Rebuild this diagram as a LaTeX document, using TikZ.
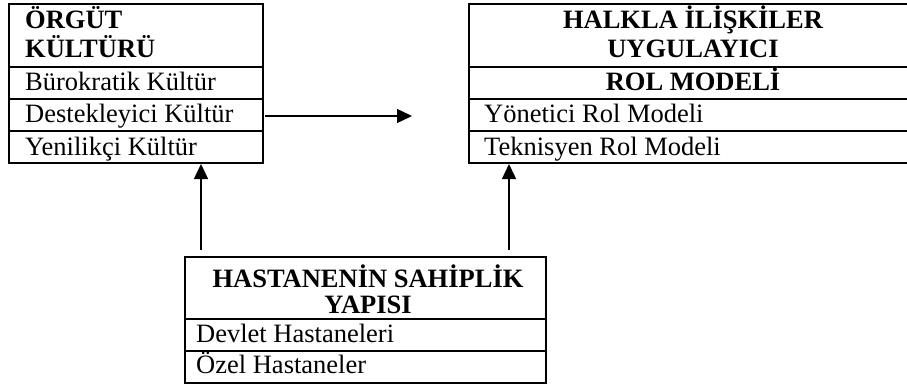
\documentclass[tikz,border=0pt]{standalone}
\usepackage{fontspec}
\setmainfont{Liberation Serif}
\usetikzlibrary{arrows.meta}
\begin{document}
\begin{tikzpicture}[x=1pt,y=-1pt,
  box/.style={line width=2.2pt},
  lbl/.style={anchor=base west, inner sep=0pt, font=\fontsize{26.5}{30}\selectfont},
  ttl/.style={anchor=base, inner sep=0pt, font=\fontsize{26.5}{30}\selectfont\bfseries},
  ttll/.style={anchor=base west, inner sep=0pt, font=\fontsize{26.5}{30}\selectfont\bfseries},
  conn/.style={line width=1.4pt, -{Triangle[length=15pt,width=14pt]}}]
\useasboundingbox (0,0) rectangle (907,385);
% left box
\draw[box] (9,4) rectangle (263,163);
\draw[box] (9,67) -- (263,67) (9,99) -- (263,99) (9,131) -- (263,131);
\node[ttll] (l1) at (25,29) {ÖRGÜT};
\node[ttll] (l2) at (25,58) {KÜLTÜRÜ};
\node[lbl] (l3) at (25,91) {Bürokratik Kültür};
\node[lbl] (l4) at (25,123) {Destekleyici Kültür};
\node[lbl] (l5) at (25,155) {Yenilikçi Kültür};
% right box (its right edge lies beyond the picture)
\draw[box] (930,4) -- (469,4) -- (469,163) -- (930,163);
\draw[box] (469,67) -- (930,67) (469,99) -- (930,99) (469,131) -- (930,131);
\node[ttl] (r1) at (693,29) {HALKLA İLİŞKİLER};
\node[ttl] (r2) at (693,58) {UYGULAYICI};
\node[ttl] (r3) at (693,91) {ROL MODELİ};
\node[lbl] (r4) at (484,123) {Yönetici Rol Modeli};
\node[lbl] (r5) at (484,155) {Teknisyen Rol Modeli};
% bottom box
\draw[box] (185,257) rectangle (546,383);
\draw[box] (185,319) -- (546,319) (185,351) -- (546,351);
\node[ttl] (b1) at (368,287) {HASTANENİN SAHİPLİK};
\node[ttl] (b2) at (368,313) {YAPISI};
\node[lbl] (b3) at (196,342) {Devlet Hastaneleri};
\node[lbl] (b4) at (196,373) {Özel Hastaneler};
% connectors
\coordinate (hA) at (265,116);
\coordinate (hB) at (412,116);
\coordinate (vLa) at (201,250);
\coordinate (vLb) at (201,164);
\coordinate (vRa) at (509,250);
\coordinate (vRb) at (509,164);
\draw[conn] (hA) -- (hB);
\draw[conn] (vLa) -- (vLb);
\draw[conn] (vRa) -- (vRb);
\end{tikzpicture}
\end{document}
